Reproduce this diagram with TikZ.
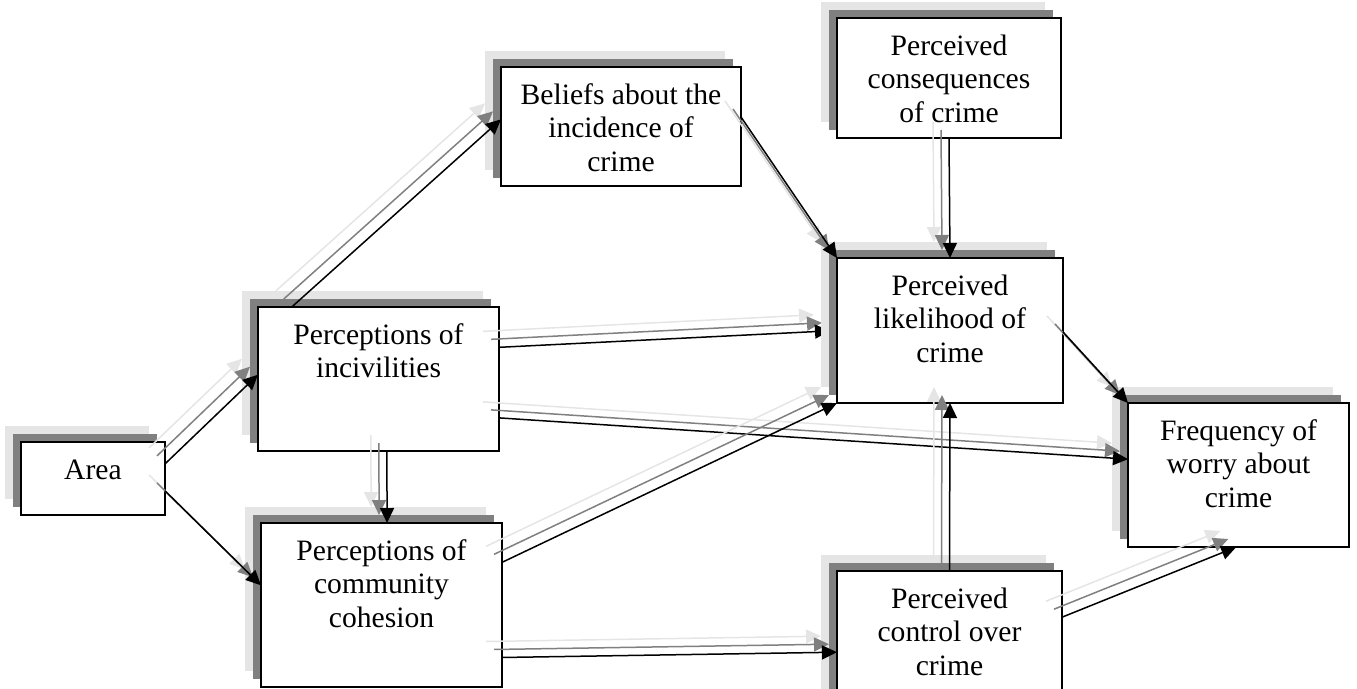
\documentclass[tikz,border=0pt]{standalone}
\usepackage{fontspec}
\setmainfont{Liberation Serif}
\usetikzlibrary{arrows.meta,calc}
\definecolor{shD}{HTML}{808080}
\definecolor{shL}{HTML}{E5E5E5}
\pgfdeclarelayer{low}
\pgfdeclarelayer{mid}
\pgfsetlayers{low,mid,main}
\newcommand\mkbox[6]{%
  \fill[shL] ({#2-16},{#3-16}) rectangle ++(#4,#5);
  \fill[shD] ({#2-8},{#3-8}) rectangle ++(#4,#5);
  \node[tbox] (#1) at (#2,#3) {\parbox[c][#5pt][t]{#4pt}{\centering\rule{0pt}{37pt}#6}};}
\newcommand\myconn[3][]{%
  \begin{scope}[transform canvas={shift={(-16pt,16pt)}}]\draw[conn,shL,#1] #2 -- #3;\end{scope}
  \begin{scope}[transform canvas={shift={(-8pt,8pt)}}]\draw[conn,shD,#1] #2 -- #3;\end{scope}
  \draw[conn,#1] #2 -- #3;}
\begin{document}
\begin{tikzpicture}[x=1pt,y=-1pt,
  tbox/.style={draw, fill=white, line width=1.8pt, inner sep=0pt, outer sep=0pt,
    anchor=north west, font=\fontsize{29.6}{33.5}\selectfont},
  conn/.style={line width=1.5pt, -{Triangle[length=15pt,width=14pt]}}]
\useasboundingbox (0,0) rectangle (1357,688);
\begin{pgfonlayer}{low}
\mkbox{area}{21}{442}{144}{73}{Area}
\mkbox{inc}{258}{307}{241}{144}{Perceptions of\\incivilities}
\mkbox{coh}{261}{523}{241}{164}{Perceptions of\\community\\cohesion}
\mkbox{bel}{501}{67}{240}{119}{Beliefs about the\\incidence of\\crime}
\mkbox{con}{837}{18}{224}{120}{Perceived\\consequences\\of crime}
\mkbox{freq}{1128}{403}{221}{144}{Frequency of\\worry about\\crime}
\mkbox{ctl}{837}{571}{225}{140}{Perceived\\control over\\crime}
\end{pgfonlayer}
\mkbox{lik}{837}{258}{226}{145}{Perceived\\likelihood of\\crime}
\begin{pgfonlayer}{mid}
\myconn[shorten >=7pt]{($(inc.north east)!0.28!(inc.south east)$)}{($(lik.north west)!0.50!(lik.south west)$)}
\end{pgfonlayer}
\myconn{($(area.north east)!0.30!(area.south east)$)}{($(inc.north west)!0.47!(inc.south west)$)}
\myconn{($(area.north east)!0.67!(area.south east)$)}{($(coh.north west)!0.38!(coh.south west)$)}
\myconn{($(inc.north west)!0.14!(inc.north east)$)}{($(bel.north west)!0.44!(bel.south west)$)}
\myconn{($(bel.north east)!0.42!(bel.south east)$)}{(lik.north west)}
\myconn{(con.south)}{(lik.north)}
\myconn{($(inc.north east)!0.77!(inc.south east)$)}{($(freq.north west)!0.39!(freq.south west)$)}
\myconn{($(coh.north east)!0.24!(coh.south east)$)}{(lik.south west)}
\myconn{($(inc.south west)!0.535!(inc.south east)$)}{($(coh.north west)!0.523!(coh.north east)$)}
\myconn{($(coh.north east)!0.82!(coh.south east)$)}{($(ctl.north west)!0.58!(ctl.south west)$)}
\myconn{(ctl.north)}{(lik.south)}
\myconn{($(lik.north east)!0.51!(lik.south east)$)}{(freq.north west)}
\myconn{($(ctl.north east)!0.33!(ctl.south east)$)}{($(freq.south west)!0.49!(freq.south east)$)}
\end{tikzpicture}
\end{document}
